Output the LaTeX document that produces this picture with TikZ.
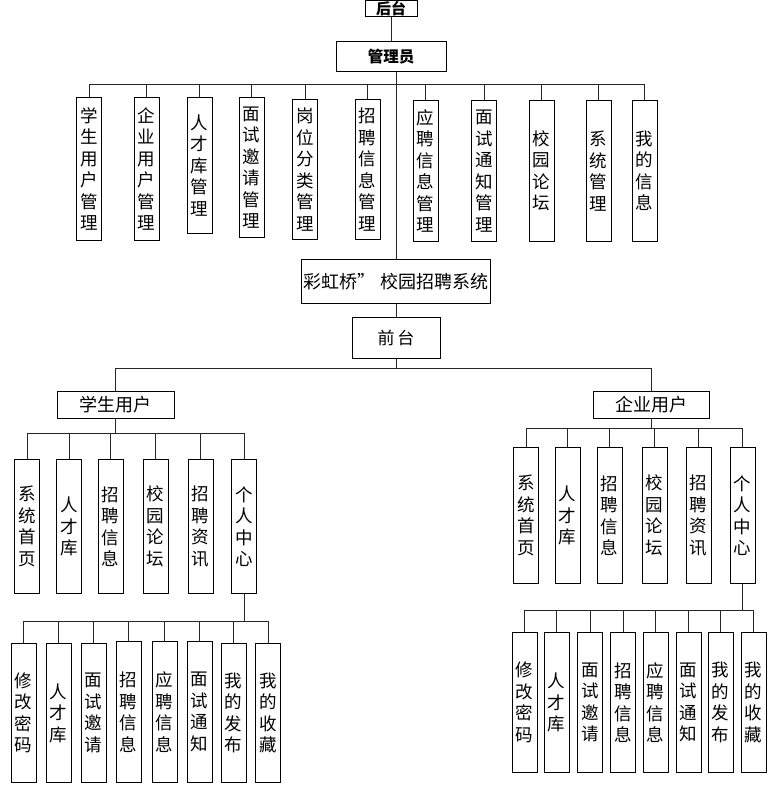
\documentclass[tikz,border=0pt]{standalone}
\usepackage{fontspec}
\setmainfont{Noto Sans CJK SC}
\usetikzlibrary{positioning}

\begin{document}
\begin{tikzpicture}[
  x=1pt, y=-1pt,
  hbox/.style={draw, line width=0.9pt, inner sep=0pt, anchor=north, font=\fontsize{18}{20}\selectfont},
  vbox/.style={draw, line width=0.9pt, inner sep=0pt, minimum width=25pt, minimum height=#1, text width=19pt, align=center, anchor=north, font=\fontsize{17.5}{21.5}\selectfont},
  link/.style={line width=0.9pt, black!85}
]
  \useasboundingbox (0,0) rectangle (779,786);

  % back end
  \node[hbox, minimum width=52pt, minimum height=16pt, font=\fontsize{15}{16}\selectfont\bfseries] (back) at (391,0.5) {后台};
  \node[hbox, minimum width=110pt, minimum height=30pt, font=\fontsize{15.5}{17}\selectfont\bfseries] (admin) at (391,41) {管理员};
  \coordinate (abar) at (396,84);

  \node[vbox=143pt] (a1) at (89,97) {学\\生\\用\\户\\管\\理};
  \node[vbox=143pt] (a2) at (146.5,97) {企\\业\\用\\户\\管\\理};
  \node[vbox=136pt] (a3) at (199.5,97) {人\\才\\库\\管\\理};
  \node[vbox=140pt] (a4) at (251.5,97) {面\\试\\邀\\请\\管\\理};
  \node[vbox=140pt] (a5) at (305,99) {岗\\位\\分\\类\\管\\理};
  \node[vbox=140pt] (a6) at (367.5,99) {招\\聘\\信\\息\\管\\理};
  \node[vbox=141pt] (a7) at (425.5,100) {应\\聘\\信\\息\\管\\理};
  \node[vbox=141pt] (a8) at (484,100) {面\\试\\通\\知\\管\\理};
  \node[vbox=141pt] (a9) at (541.5,100) {校\\园\\论\\坛};
  \node[vbox=141pt] (a10) at (598.5,100) {系\\统\\管\\理};
  \node[vbox=141pt] (a11) at (644.5,100) {我\\的\\信\\息};

  % system and front end
  \node[hbox, minimum width=189pt, minimum height=44pt] (sys) at (396,259) {彩虹桥”\ 校园招聘系统};
  \node[hbox, minimum width=88pt, minimum height=41pt, font=\fontsize{17}{19}\selectfont] (front) at (396,317) {前\hspace{3pt}台};
  \coordinate (fbar) at (396,368);

  \node[hbox, minimum width=117pt, minimum height=27pt] (stu) at (115.5,391) {学生用户};
  \node[hbox, minimum width=116pt, minimum height=27pt] (ent) at (651,391) {企业用户};

  % student users
  \coordinate (sbar) at (115,433);
  \node[vbox=134pt] (s1) at (27,459) {系\\统\\首\\页};
  \node[vbox=134pt] (s2) at (69,459) {人\\才\\库};
  \node[vbox=134pt] (s3) at (110.5,459) {招\\聘\\信\\息};
  \node[vbox=134pt] (s4) at (155.5,459) {校\\园\\论\\坛};
  \node[vbox=134pt] (s5) at (200.5,459) {招\\聘\\资\\讯};
  \node[vbox=134pt] (s6) at (244,459) {个\\人\\中\\心};

  \coordinate (spbar) at (244,621);
  \node[vbox=139pt] (sp1) at (23.5,643) {修\\改\\密\\码};
  \node[vbox=139pt] (sp2) at (58.5,643) {人\\才\\库};
  \node[vbox=139pt] (sp3) at (93.5,643) {面\\试\\邀\\请};
  \node[vbox=141pt] (sp4) at (128.5,641) {招\\聘\\信\\息};
  \node[vbox=141pt] (sp5) at (164.5,641) {应\\聘\\信\\息};
  \node[vbox=141pt] (sp6) at (199.5,641) {面\\试\\通\\知};
  \node[vbox=139pt] (sp7) at (233.5,643) {我\\的\\发\\布};
  \node[vbox=139pt] (sp8) at (268,643) {我\\的\\收\\藏};

  % company users
  \coordinate (ebar) at (652,428);
  \node[vbox=136pt] (e1) at (526,447) {系\\统\\首\\页};
  \node[vbox=136pt] (e2) at (567.5,447) {人\\才\\库};
  \node[vbox=136pt] (e3) at (609.5,447) {招\\聘\\信\\息};
  \node[vbox=136pt] (e4) at (654.5,447) {校\\园\\论\\坛};
  \node[vbox=136pt] (e5) at (698.5,447) {招\\聘\\资\\讯};
  \node[vbox=136pt] (e6) at (742.5,447) {个\\人\\中\\心};

  \coordinate (epbar) at (743,610);
  \node[vbox=140pt] (ep1) at (524.5,632) {修\\改\\密\\码};
  \node[vbox=140pt] (ep2) at (556.5,632) {人\\才\\库};
  \node[vbox=140pt] (ep3) at (590,632) {面\\试\\邀\\请};
  \node[vbox=140pt] (ep4) at (623,632) {招\\聘\\信\\息};
  \node[vbox=140pt] (ep5) at (655.5,632) {应\\聘\\信\\息};
  \node[vbox=140pt] (ep6) at (688.5,632) {面\\试\\通\\知};
  \node[vbox=140pt] (ep7) at (720.5,632) {我\\的\\发\\布};
  \node[vbox=140pt] (ep8) at (753.5,632) {我\\的\\收\\藏};

  % connectors
  \draw[link] (back) -- (admin);
  \draw[link] (admin.south -| sys.north) -- (sys);
  \draw[link] (abar -| a1) -- (abar -| a11);
  \draw[link] (abar -| a1) -- (a1) (abar -| a2) -- (a2) (abar -| a3) -- (a3) (abar -| a4) -- (a4)
    (abar -| a5) -- (a5) (abar -| a6) -- (a6) (abar -| a7) -- (a7) (abar -| a8) -- (a8)
    (abar -| a9) -- (a9) (abar -| a10) -- (a10) (abar -| a11) -- (a11);

  \draw[link] (sys) -- (front);
  \draw[link] (front) -- (fbar);
  \draw[link] (fbar -| stu) -- (fbar -| ent);
  \draw[link] (fbar -| stu) -- (stu) (fbar -| ent) -- (ent);

  \draw[link] (stu) -- (stu |- sbar);
  \draw[link] (sbar -| s1) -- (sbar -| s6);
  \draw[link] (sbar -| s1) -- (s1) (sbar -| s2) -- (s2) (sbar -| s3) -- (s3)
    (sbar -| s4) -- (s4) (sbar -| s5) -- (s5) (sbar -| s6) -- (s6);
  \draw[link] (s6) -- (spbar -| s6);
  \draw[link] (spbar -| sp1) -- (spbar -| sp8);
  \draw[link] (spbar -| sp1) -- (sp1) (spbar -| sp2) -- (sp2) (spbar -| sp3) -- (sp3) (spbar -| sp4) -- (sp4)
    (spbar -| sp5) -- (sp5) (spbar -| sp6) -- (sp6) (spbar -| sp7) -- (sp7) (spbar -| sp8) -- (sp8);

  \draw[link] (ent) -- (ent |- ebar);
  \draw[link] (ebar -| e1) -- (ebar -| e6);
  \draw[link] (ebar -| e1) -- (e1) (ebar -| e2) -- (e2) (ebar -| e3) -- (e3)
    (ebar -| e4) -- (e4) (ebar -| e5) -- (e5) (ebar -| e6) -- (e6);
  \draw[link] (e6) -- (epbar -| e6);
  \draw[link] (epbar -| ep1) -- (epbar -| ep8);
  \draw[link] (epbar -| ep1) -- (ep1) (epbar -| ep2) -- (ep2) (epbar -| ep3) -- (ep3) (epbar -| ep4) -- (ep4)
    (epbar -| ep5) -- (ep5) (epbar -| ep6) -- (ep6) (epbar -| ep7) -- (ep7) (epbar -| ep8) -- (ep8);
\end{tikzpicture}
\end{document}
